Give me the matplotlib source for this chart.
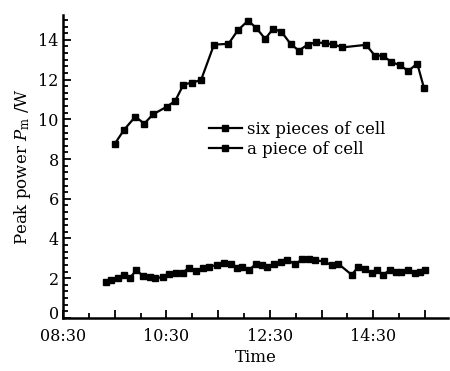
import matplotlib
matplotlib.use("Agg")
import matplotlib.pyplot as plt
import matplotlib.transforms as mtransforms
from matplotlib.ticker import MultipleLocator, FixedLocator, FuncFormatter

# time in decimal hours
six_t = [9.50, 9.68, 9.90, 10.07, 10.24, 10.51, 10.67, 10.83, 11.00, 11.17, 11.42,
         11.70, 11.88, 12.08, 12.24, 12.41, 12.56, 12.72, 12.90, 13.06, 13.23, 13.40,
         13.56, 13.73, 13.90, 14.36, 14.53, 14.68, 14.85, 15.01, 15.18, 15.35, 15.48]
six_p = [8.76, 9.47, 10.14, 9.78, 10.25, 10.64, 10.93, 11.75, 11.85, 11.98, 13.76,
         13.80, 14.48, 14.97, 14.59, 14.05, 14.55, 14.42, 13.80, 13.46, 13.76, 13.88,
         13.83, 13.78, 13.62, 13.75, 13.21, 13.21, 12.89, 12.72, 12.44, 12.81, 11.58]

one_t = [9.340, 9.437, 9.563, 9.679, 9.788, 9.917, 10.044, 10.173, 10.288, 10.429,
         10.558, 10.687, 10.813, 10.942, 11.071, 11.198, 11.327, 11.487, 11.615, 11.744,
         11.871, 11.967, 12.096, 12.225, 12.352, 12.448, 12.577, 12.706, 12.833, 12.994,
         13.121, 13.250, 13.379, 13.538, 13.698, 13.827, 14.083, 14.212, 14.340, 14.467,
         14.563, 14.692, 14.821, 14.948, 15.044, 15.173, 15.302, 15.398, 15.506]
one_p = [1.80, 1.90, 2.03, 2.17, 2.00, 2.40, 2.13, 2.05, 2.01, 2.05,
         2.20, 2.27, 2.28, 2.53, 2.37, 2.50, 2.58, 2.67, 2.75, 2.70,
         2.50, 2.58, 2.42, 2.70, 2.67, 2.55, 2.70, 2.80, 2.92, 2.70,
         2.95, 2.97, 2.90, 2.85, 2.65, 2.72, 2.17, 2.58, 2.47, 2.25,
         2.42, 2.17, 2.42, 2.33, 2.33, 2.42, 2.25, 2.33, 2.42]

labels = ["six pieces of cell", "a piece of cell"]
xtick_pos = [8.5, 10.5, 12.5, 14.5]
xtick_labels = ["08:30", "10:30", "12:30", "14:30"]

plt.rcParams['font.family'] = ['DejaVu Serif']
plt.rcParams['mathtext.fontset'] = 'dejavuserif'

fig = plt.figure(figsize=(4.5, 3.71), dpi=100)
ax = fig.add_axes([0.14, 0.143, 0.855, 0.817])

kw = dict(color='black', lw=1.6, marker='s', ms=4.6, mfc='black', mec='black')
ax.plot(six_t, six_p, label=labels[0], **kw)
ax.plot(one_t, one_p, label=labels[1], **kw)

ax.set_xlim(8.5, 15.94)
ax.set_ylim(0, 15.26)

for s in ['top', 'right']:
    ax.spines[s].set_visible(False)
for s in ['left', 'bottom']:
    ax.spines[s].set_linewidth(1.8)

ax.yaxis.set_major_locator(MultipleLocator(2))
ax.yaxis.set_minor_locator(MultipleLocator(1/3))
ax.xaxis.set_major_locator(FixedLocator([8.5, 9.5, 10.5, 11.5, 12.5, 13.5, 14.5, 15.5]))
ax.xaxis.set_minor_locator(FixedLocator([9, 10, 11, 12, 13, 14, 15]))

def xfmt(v, pos):
    for lv, lt in zip(xtick_pos, xtick_labels):
        if abs(v - lv) < 1e-6:
            return lt
    return ""
ax.xaxis.set_major_formatter(FuncFormatter(xfmt))

ax.tick_params(which='both', direction='in', width=1.3, labelsize=11.5)
ax.tick_params(which='major', length=6)
ax.tick_params(which='minor', length=3.5)
ax.tick_params(axis='x', pad=7)
ax.tick_params(axis='y', pad=3)

ax.set_xlabel("Time", fontsize=12, labelpad=3)
ax.set_ylabel(r"Peak power $\mathit{P}_{\mathrm{m}}$ /W", fontsize=12, labelpad=4)

ax.legend(loc='center left', bbox_to_anchor=(0.445, 0.624), bbox_transform=fig.transFigure,
          frameon=False, fontsize=12, handlelength=2.0, handletextpad=0.3,
          labelspacing=0.15, borderpad=0)

# nudge the "0" label up slightly so it does not collide with "08:30"
fig.canvas.draw()
for t in ax.yaxis.get_majorticklabels():
    if t.get_text() == "0":
        t.set_transform(t.get_transform() + mtransforms.ScaledTranslation(0, 4/72, fig.dpi_scale_trans))

fig.savefig("out.png", dpi=100)
